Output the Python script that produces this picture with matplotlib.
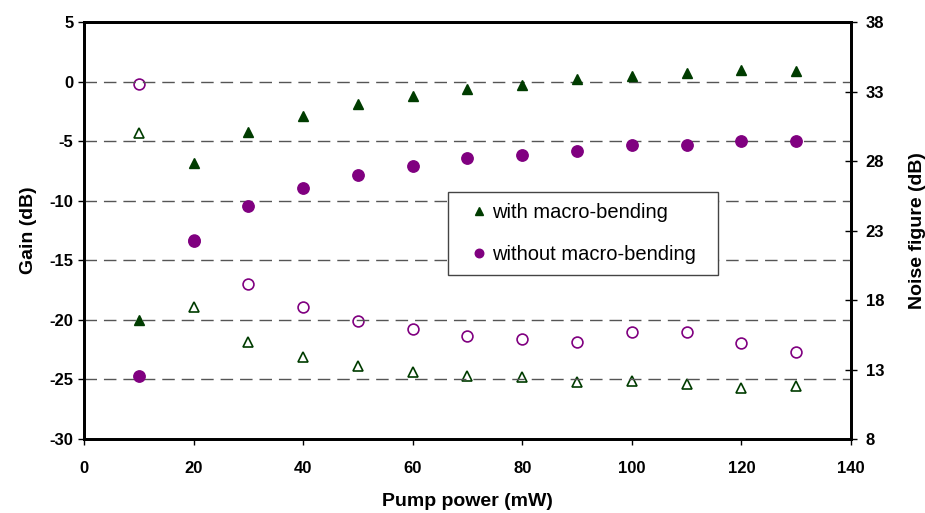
import matplotlib
matplotlib.use('Agg')
import matplotlib.pyplot as plt
import numpy as np

plt.rcParams['font.family'] = ['Liberation Sans', 'DejaVu Sans']
plt.rcParams['axes.unicode_minus'] = False

pump = [10, 20, 30, 40, 50, 60, 70, 80, 90, 100, 110, 120, 130]

gain_with = [-20.0, -6.8, -4.2, -2.9, -1.9, -1.2, -0.6, -0.25, 0.2, 0.5, 0.7, 0.95, 0.85]
gain_without = [-24.7, -13.35, -10.45, -8.9, -7.85, -7.1, -6.4, -6.15, -5.8, -5.3, -5.3, -4.95, -4.95]
nf_with = [30.0, 17.5, 15.0, 13.9, 13.25, 12.85, 12.55, 12.45, 12.1, 12.15, 11.95, 11.65, 11.8]
nf_without = [33.55, 22.3, 19.15, 17.5, 16.5, 15.9, 15.4, 15.2, 15.0, 15.7, 15.7, 14.9, 14.25]

green = '#003c00'
purple = '#800080'

fig = plt.figure(figsize=(9.25, 5.13), dpi=100)
ax1 = fig.add_axes([0.0908, 0.1442, 0.8292, 0.8128])
ax2 = ax1.twinx()

# noise figure (open markers) on right axis
ax2.plot(pump, nf_without, 'o', ms=7.8, mfc='white', mec=purple, mew=1.2, ls='none', zorder=2)
ax2.plot(pump, nf_with, '^', ms=7, mfc='white', mec=green, mew=1.2, ls='none', zorder=2)

# gain (filled markers) on left axis
ax1.set_zorder(ax2.get_zorder() + 1)
ax1.patch.set_visible(False)
ax1.plot(pump, gain_with, '^', ms=6.8, color=green, ls='none', label='with macro-bending')
ax1.plot(pump, gain_without, 'o', ms=8.2, color=purple, ls='none', label='without macro-bending')

lw = 2
fs1 = 14
fs2 = 12
ax1.set_xlim(0, 140)
ax1.set_ylim(-30, 5)
ax2.set_ylim(8, 38)
ax1.set_xticks(np.arange(0, 141, 20))
ax1.set_yticks(np.arange(-30, 6, 5))
ax2.set_yticks(np.arange(8, 39, 5))
for y in range(-25, 1, 5):
  ax1.axhline(y, color='#555555', ls=(0, (9, 5)), lw=1, zorder=0)

for ax in (ax1, ax2):
  for s in ax.spines.values():
    s.set_linewidth(lw)
  ax.tick_params(labelsize=fs2, width=1, length=4)
  for lab in ax.get_xticklabels() + ax.get_yticklabels():
    lab.set_fontweight('bold')
ax1.tick_params(axis='x', pad=12)
ax2.tick_params(axis='y', direction='inout', length=8, pad=6.5)

ax1.set_xlabel('Pump power (mW)', fontsize=fs1, fontweight='bold', labelpad=12)
ax1.set_ylabel('Gain (dB)', fontsize=fs1, fontweight='bold', labelpad=9)
ax2.set_ylabel('Noise figure (dB)', fontsize=fs1, fontweight='bold', labelpad=18)

leg = ax1.legend(loc='upper left', bbox_to_anchor=(0.4746, 0.393, 0.3515, 0.2), mode='expand',
                 borderaxespad=0, fontsize=14.5, fancybox=False, framealpha=1, edgecolor='#444444',
                 handletextpad=-0.35, handlelength=2.0, borderpad=0.55, labelspacing=1.15,
                 markerscale=0.75)
leg.get_frame().set_linewidth(1)

plt.savefig('out.png', dpi=100)
